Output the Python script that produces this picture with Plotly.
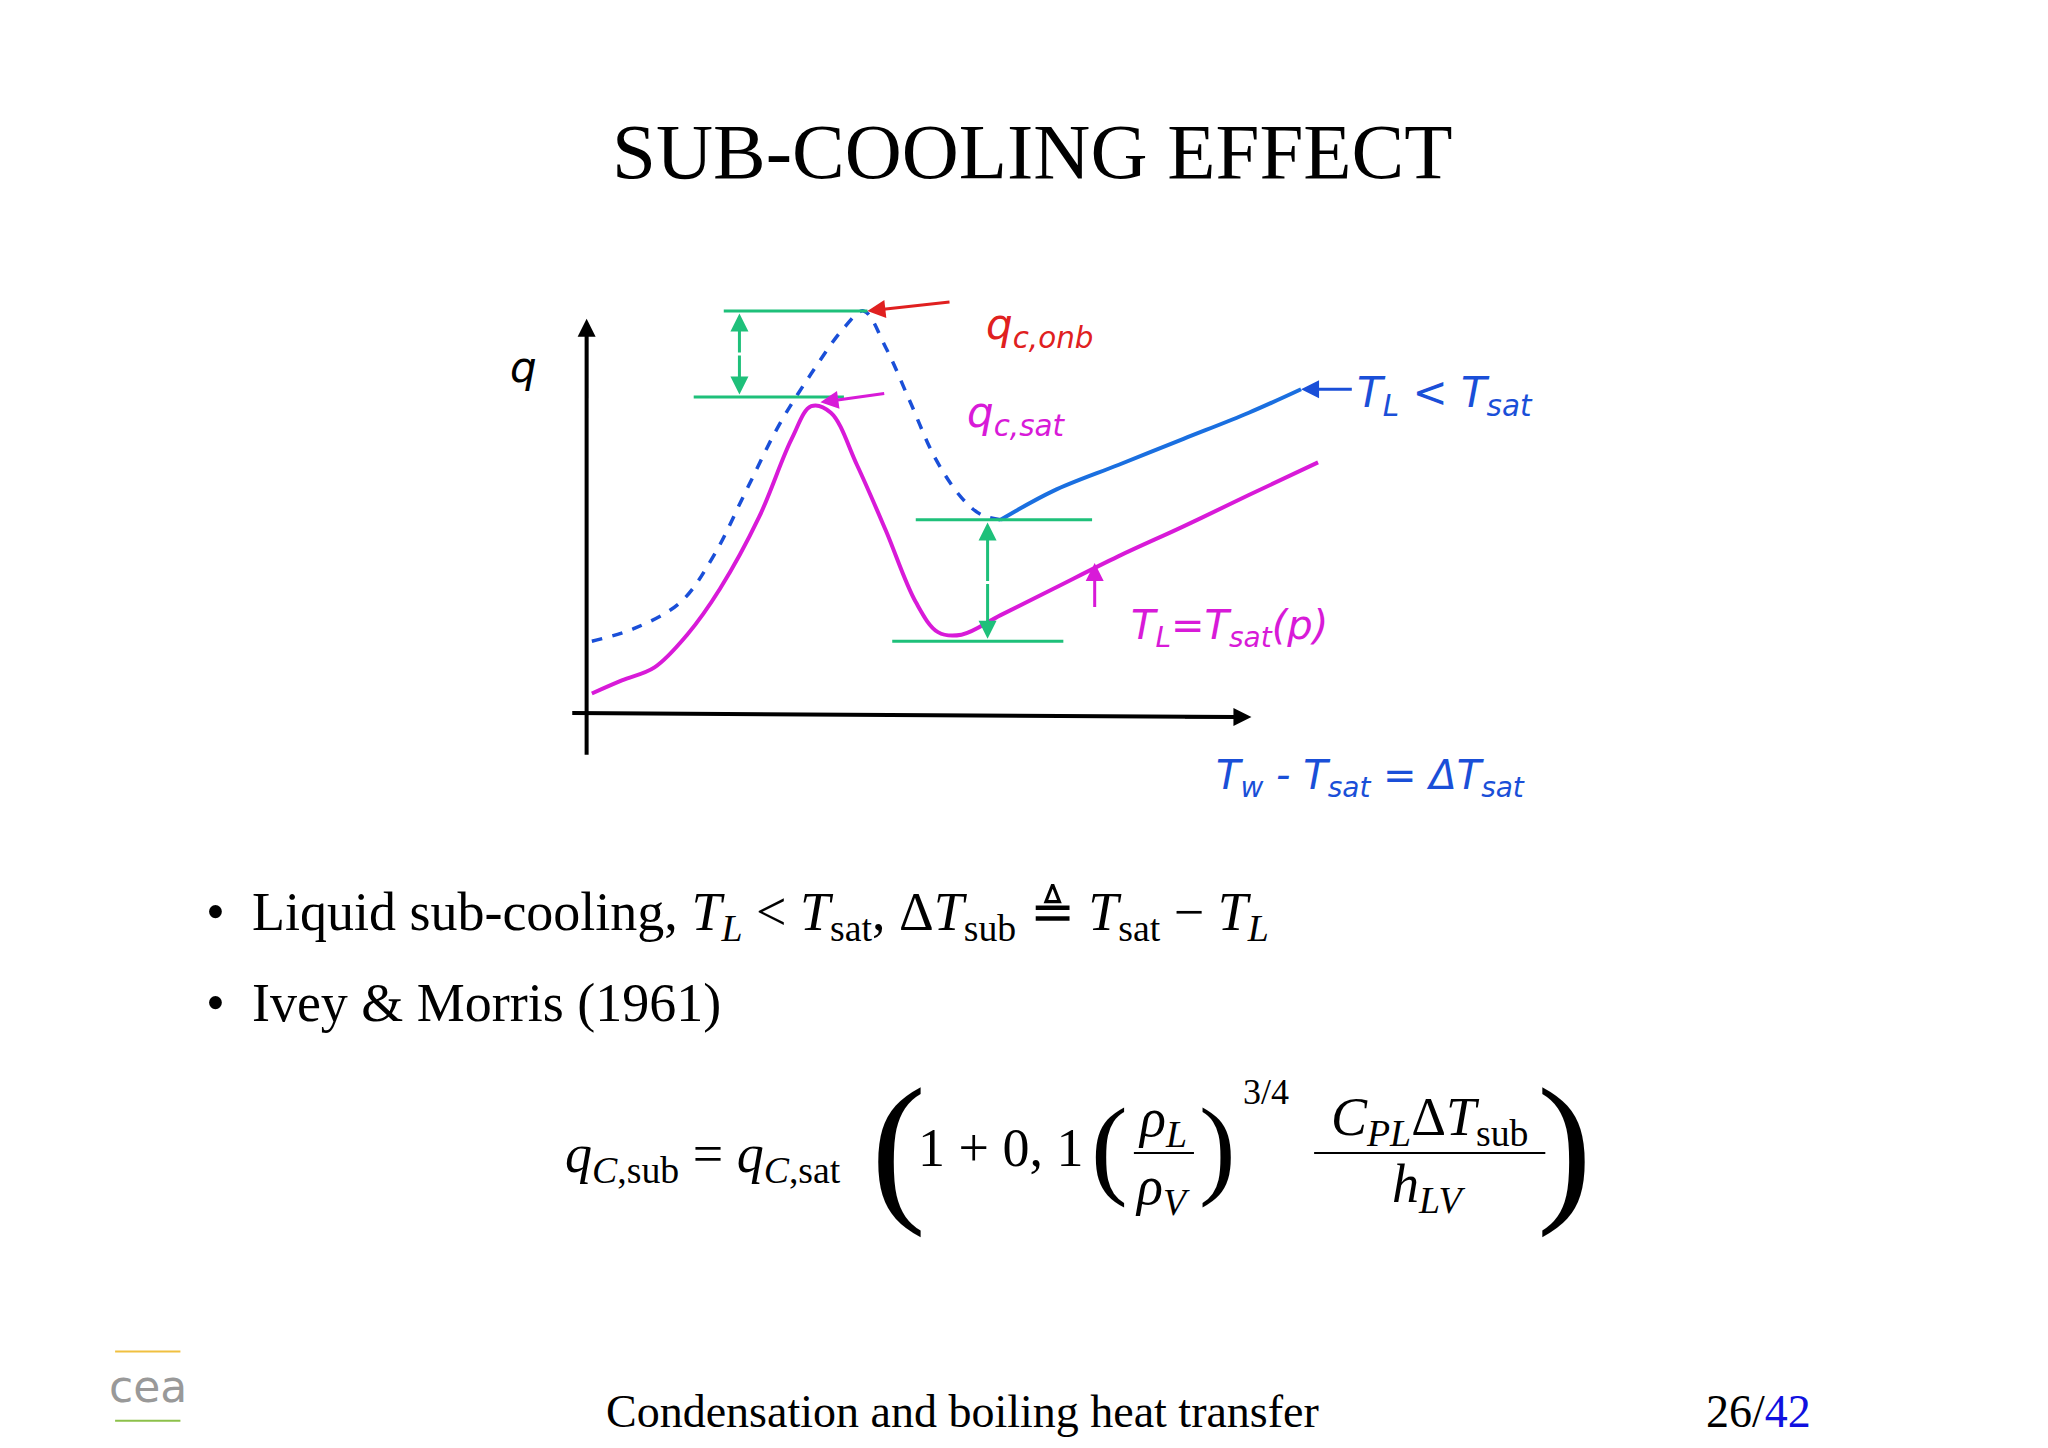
import plotly.graph_objects as go

# slide coordinates (reference pixels at display scale)
W, H = 1568, 1109

# sketched curves
sat_x = [447, 470, 495, 520, 545, 575, 600, 615, 630, 650, 672, 695, 712, 730, 760, 800, 850, 900, 950, 1003]
sat_y = [525, 515, 505, 480, 445, 390, 330, 305, 310, 350, 400, 455, 478, 480, 465, 445, 420, 397, 373, 348]
sub_x = [447, 480, 515, 540, 565, 590, 615, 640, 655, 672, 690, 710, 730, 745, 760]
sub_y = [485, 475, 455, 420, 370, 320, 280, 245, 232, 260, 300, 345, 375, 388, 392]
sub_tail_x = [760, 800, 850, 900, 950, 990]
sub_tail_y = [392, 370, 350, 330, 310, 292]

fig = go.Figure()
fig.add_trace(go.Scatter(x=sat_x, y=sat_y, mode="lines", line=dict(color="#d81ad8", width=4, shape="spline")))
fig.add_trace(go.Scatter(x=sub_x, y=sub_y, mode="lines", line=dict(color="#1a4fd8", width=3.5, dash="dash", shape="spline")))
fig.add_trace(go.Scatter(x=sub_tail_x, y=sub_tail_y, mode="lines", line=dict(color="#1a6fe0", width=4, shape="spline")))

# axes of the sketch
fig.add_shape(type="line", x0=443, y0=572, x1=443, y1=245, line=dict(color="black", width=4))
fig.add_shape(type="line", x0=432, y0=540, x1=940, y1=543, line=dict(color="black", width=4))

green = "#1ec07a"
for x0, x1, y in [(548, 658, 232), (525, 640, 298), (695, 830, 392), (677, 808, 485)]:
    fig.add_shape(type="line", x0=x0, y0=y, x1=x1, y1=y, line=dict(color=green, width=3))

arrows = [
    # x, y, ax, ay, color
    (443, 238, 443, 300, "black"),
    (952, 543, 900, 543, "black"),
    (560, 234, 560, 265, green), (560, 296, 560, 265, green),
    (750, 394, 750, 440, green), (750, 483, 750, 440, green),
    (658, 232, 722, 225, "#e02020"),
    (622, 302, 672, 295, "#d81ad8"),
    (990, 292, 1030, 292, "#1a4fd8"),
    (832, 425, 832, 460, "#d81ad8"),
]
for x, y, ax, ay, c in arrows:
    fig.add_annotation(x=x, y=y, ax=ax, ay=ay, xref="x", yref="y", axref="x", ayref="y",
                       showarrow=True, arrowhead=2, arrowsize=1.2, arrowwidth=3, arrowcolor=c, text="")

hand = "DejaVu Sans, sans-serif"
labels = [
    (395, 275, "q", "black", 42),
    (790, 245, "q<sub>c,onb</sub>", "#e02020", 42),
    (772, 312, "q<sub>c,sat</sub>", "#d81ad8", 42),
    (1100, 297, "T<sub>L</sub> &lt; T<sub>sat</sub>", "#1a4fd8", 42),
    (935, 475, "T<sub>L</sub>=T<sub>sat</sub>(p)", "#d81ad8", 40),
    (1043, 590, "T<sub>w</sub> - T<sub>sat</sub> = ΔT<sub>sat</sub>", "#1a4fd8", 40),
]
for x, y, t, c, s in labels:
    fig.add_annotation(x=x, y=y, text="<i>" + t + "</i>", showarrow=False,
                       font=dict(family=hand, size=s, color=c))

serif = "Liberation Serif, serif"
fs = 54
fig.add_annotation(x=784, y=110, text="SUB-COOLING EFFECT", showarrow=False,
                   font=dict(family=serif, size=79, color="black"))
fig.add_annotation(x=150, y=695, xanchor="left", showarrow=False, font=dict(family=serif, size=fs, color="black"),
                   text="•  Liquid sub-cooling, <i>T<sub>L</sub></i> &lt; <i>T</i><sub>sat</sub>, Δ<i>T</i><sub>sub</sub> ≜ <i>T</i><sub>sat</sub> − <i>T<sub>L</sub></i>")
fig.add_annotation(x=150, y=762, xanchor="left", showarrow=False, font=dict(family=serif, size=fs, color="black"),
                   text="•  Ivey &amp; Morris (1961)")
fig.add_annotation(x=425, y=880, xanchor="left", showarrow=False, font=dict(family=serif, size=fs, color="black"),
                   text="<i>q</i><sub><i>C</i>,sub</sub> = <i>q</i><sub><i>C</i>,sat</sub>")
fig.add_annotation(x=682, y=872, showarrow=False, font=dict(family=serif, size=165, color="black"), text="(")
fig.add_annotation(x=760, y=873, showarrow=False, font=dict(family=serif, size=fs, color="black"), text="1 + 0, 1")
fig.add_annotation(x=843, y=872, showarrow=False, font=dict(family=serif, size=110, color="black"), text="(")
fig.add_annotation(x=884, y=853, showarrow=False, font=dict(family=serif, size=fs, color="black"), text="<i>ρ<sub>L</sub></i>")
fig.add_annotation(x=884, y=905, showarrow=False, font=dict(family=serif, size=fs, color="black"), text="<i>ρ<sub>V</sub></i>")
fig.add_shape(type="line", x0=862, y0=877, x1=908, y1=877, line=dict(color="black", width=2))
fig.add_annotation(x=926, y=872, showarrow=False, font=dict(family=serif, size=110, color="black"), text=")")
fig.add_annotation(x=963, y=830, showarrow=False, font=dict(family=serif, size=36, color="black"), text="3/4")
fig.add_annotation(x=1088, y=852, showarrow=False, font=dict(family=serif, size=fs, color="black"),
                   text="<i>C<sub>PL</sub></i>Δ<i>T</i><sub>sub</sub>")
fig.add_annotation(x=1088, y=903, showarrow=False, font=dict(family=serif, size=fs, color="black"),
                   text="<i>h<sub>LV</sub></i>")
fig.add_shape(type="line", x0=1000, y0=877, x1=1177, y1=877, line=dict(color="black", width=2))
fig.add_annotation(x=1192, y=872, showarrow=False, font=dict(family=serif, size=165, color="black"), text=")")

# footer
fig.add_shape(type="line", x0=82, y0=1029, x1=132, y1=1029, line=dict(color="#f0c040", width=2))
fig.add_shape(type="line", x0=82, y0=1082, x1=132, y1=1082, line=dict(color="#8cc04a", width=2))
fig.add_annotation(x=107, y=1056, showarrow=False, font=dict(family="DejaVu Sans", size=44, color="#999999"), text="cea")
fig.add_annotation(x=731, y=1075, showarrow=False, font=dict(family=serif, size=46, color="black"),
                   text="Condensation and boiling heat transfer")
fig.add_annotation(x=1340, y=1075, showarrow=False, font=dict(family=serif, size=46, color="black"),
                   text="26/<span style='color:#1010e0'>42</span>")

fig.update_xaxes(range=[0, W], visible=False)
fig.update_yaxes(range=[H, 0], visible=False)
fig.update_layout(width=2048, height=1448, margin=dict(l=0, r=0, t=0, b=0),
                  showlegend=False, plot_bgcolor="white", paper_bgcolor="white")
fig.write_html("out.html")
